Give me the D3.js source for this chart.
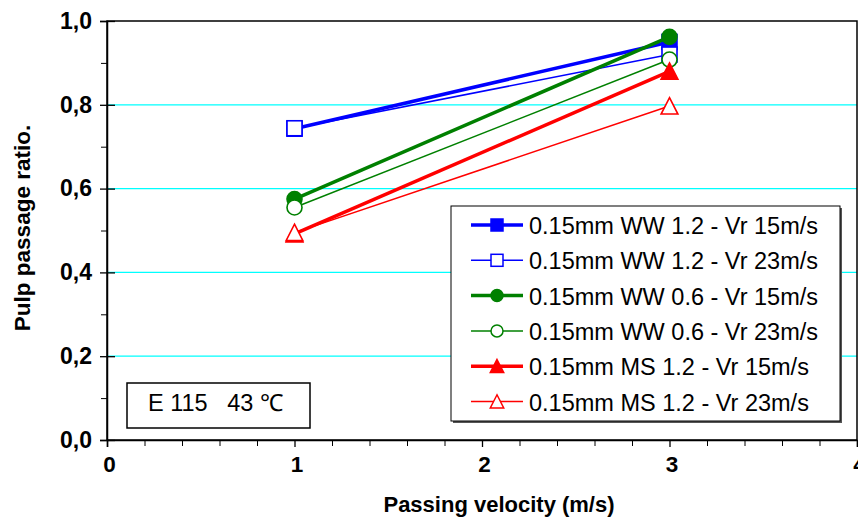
<!DOCTYPE html>
<html><head><meta charset="utf-8">
<script src="https://cdn.jsdelivr.net/npm/d3@7"></script>
<style>body{margin:0;background:#fff;} svg{display:block;font-family:"Liberation Sans",Arial,sans-serif;}</style>
</head><body>
<svg id="c" width="858" height="517"></svg>
<script>
const xValues = [1, 3];
const seriesNames = [
  "0.15mm WW 1.2 - Vr 15m/s",
  "0.15mm WW 1.2 - Vr 23m/s",
  "0.15mm WW 0.6 - Vr 15m/s",
  "0.15mm WW 0.6 - Vr 23m/s",
  "0.15mm MS 1.2 - Vr 15m/s",
  "0.15mm MS 1.2 - Vr 23m/s"
];
const ww12_vr15 = [0.743, 0.95];
const ww12_vr23 = [0.744, 0.92];
const ww06_vr15 = [0.575, 0.962];
const ww06_vr23 = [0.555, 0.908];
const ms12_vr15 = [0.492, 0.88];
const ms12_vr23 = [0.495, 0.797];
const yTickValues = [0, 0.2, 0.4, 0.6, 0.8, 1.0];
const xTickValues = [0, 1, 2, 3, 4];
const annotation = "E 115   43 \u2103";

const seriesValues = [ww12_vr15, ww12_vr23, ww06_vr15, ww06_vr23, ms12_vr15, ms12_vr23];
const colors = ["#0000ff","#0000ff","#008000","#008000","#ff0000","#ff0000"];
const shapes = ["square","square","circle","circle","triangle","triangle"];
const filled = [true,false,true,false,true,false];
const widths = [3.5,1.5,3.5,1.5,3.5,1.5];

const svg = d3.select("#c");
const L=107, R=857, T=21, B=440;
const x = d3.scaleLinear().domain([0,4]).range([L,R]);
const y = d3.scaleLinear().domain([0,1]).range([B,T]);

// gridlines
svg.append("g").selectAll("line").data([0.2,0.4,0.6,0.8]).join("line")
  .attr("x1",L).attr("x2",R).attr("y1",d=>y(d)).attr("y2",d=>y(d))
  .attr("stroke","#00ffff").attr("stroke-width",1.2);

// plot border
svg.append("rect").attr("x",L).attr("y",T).attr("width",R-L).attr("height",B-T)
  .attr("fill","none").attr("stroke","#000").attr("stroke-width",1.5);

// y axis
const yAxis = svg.append("g").attr("transform",`translate(${L},0)`)
  .call(d3.axisLeft(y).tickValues(yTickValues).tickSize(7).tickPadding(8)
    .tickFormat(d=>d3.format(".1f")(d).replace(".",",")));
yAxis.select(".domain").attr("stroke","#000").attr("stroke-width",1.5);
yAxis.selectAll(".tick line").attr("x2",8).attr("x1",-7).attr("stroke-width",1.3);
yAxis.selectAll("text").attr("font-size",23).attr("font-weight","bold").attr("fill","#000")
  .attr("font-family","Liberation Sans, Arial, sans-serif");
// minor y ticks
svg.append("g").attr("transform",`translate(${L},0)`)
  .call(d3.axisLeft(y).tickValues([0.1,0.3,0.5,0.7,0.9]).tickSize(6).tickFormat(""))
  .call(g=>g.select(".domain").remove())
  .selectAll("line").attr("stroke-width",1);

// x axis
const xAxis = svg.append("g").attr("transform",`translate(0,${B})`)
  .call(d3.axisBottom(x).tickValues(xTickValues).tickSize(7).tickPadding(9).tickFormat(d3.format("d")));
xAxis.select(".domain").attr("stroke","#000").attr("stroke-width",1.5);
xAxis.selectAll(".tick line").attr("stroke-width",1.3);
xAxis.selectAll("text").attr("font-size",22.5).attr("font-weight","bold").attr("fill","#000")
  .attr("font-family","Liberation Sans, Arial, sans-serif").attr("dx",2);
const xMinor = d3.range(0,4.001,0.2).filter(v=>Math.abs(v-Math.round(v))>1e-6);
svg.append("g").attr("transform",`translate(0,${B})`)
  .call(d3.axisBottom(x).tickValues(xMinor).tickSize(6).tickFormat(""))
  .call(g=>g.select(".domain").remove())
  .selectAll("line").attr("stroke-width",1);

// axis titles
svg.append("text").attr("x",499).attr("y",512).attr("text-anchor","middle")
  .attr("font-size",22).attr("font-weight","bold").text("Passing velocity (m/s)");
svg.append("text").attr("transform","translate(30,228) rotate(-90)").attr("text-anchor","middle")
  .attr("font-size",22.5).attr("font-weight","bold").text("Pulp passage ratio.");

function drawMarker(g, shape, cx, cy, color, fill, size, sw){
  const f = fill ? color : "#fff";
  if(shape==="square"){
    g.append("rect").attr("x",cx-size/2).attr("y",cy-size/2).attr("width",size).attr("height",size)
      .attr("fill",f).attr("stroke",color).attr("stroke-width",sw);
  } else if(shape==="circle"){
    g.append("circle").attr("cx",cx).attr("cy",cy).attr("r",size/2)
      .attr("fill",f).attr("stroke",color).attr("stroke-width",sw);
  } else {
    const s=size*0.56;
    g.append("path").attr("d",`M${cx},${cy-s}L${cx+s},${cy+s*0.95}L${cx-s},${cy+s*0.95}Z`)
      .attr("fill",f).attr("stroke",color).attr("stroke-width",sw);
  }
}

// series
const line = d3.line().x((d,i)=>x(xValues[i])).y(d=>y(d));
seriesValues.forEach((vals,si)=>{
  const g = svg.append("g");
  g.append("path").attr("d",line(vals)).attr("fill","none")
    .attr("stroke",colors[si]).attr("stroke-width",widths[si]);
  vals.forEach((v,i)=>drawMarker(g,shapes[si],x(xValues[i]),y(v),colors[si],filled[si],15,1.6));
});

// legend
const lg = svg.append("g");
lg.append("rect").attr("x",453).attr("y",208).attr("width",389).attr("height",215).attr("fill","#555");
lg.append("rect").attr("x",451).attr("y",206).attr("width",389).attr("height",215)
  .attr("fill","#fff").attr("stroke","#000").attr("stroke-width",1);
seriesNames.forEach((name,i)=>{
  const cy = 225 + i*35.3;
  lg.append("line").attr("x1",471).attr("x2",523).attr("y1",cy).attr("y2",cy)
    .attr("stroke",colors[i]).attr("stroke-width",widths[i]);
  drawMarker(lg,shapes[i],497,cy,colors[i],filled[i],12,1.5);
  lg.append("text").attr("x",529).attr("y",cy+9).attr("font-size",23.5).attr("fill","#000").text(name);
});

// annotation box
svg.append("rect").attr("x",127).attr("y",383).attr("width",183).attr("height",45)
  .attr("fill","#fff").attr("stroke","#000").attr("stroke-width",1.5);
svg.append("text").attr("x",148).attr("y",411).attr("font-size",23.5)
  .style("white-space","pre").text(annotation);
</script>
</body></html>
